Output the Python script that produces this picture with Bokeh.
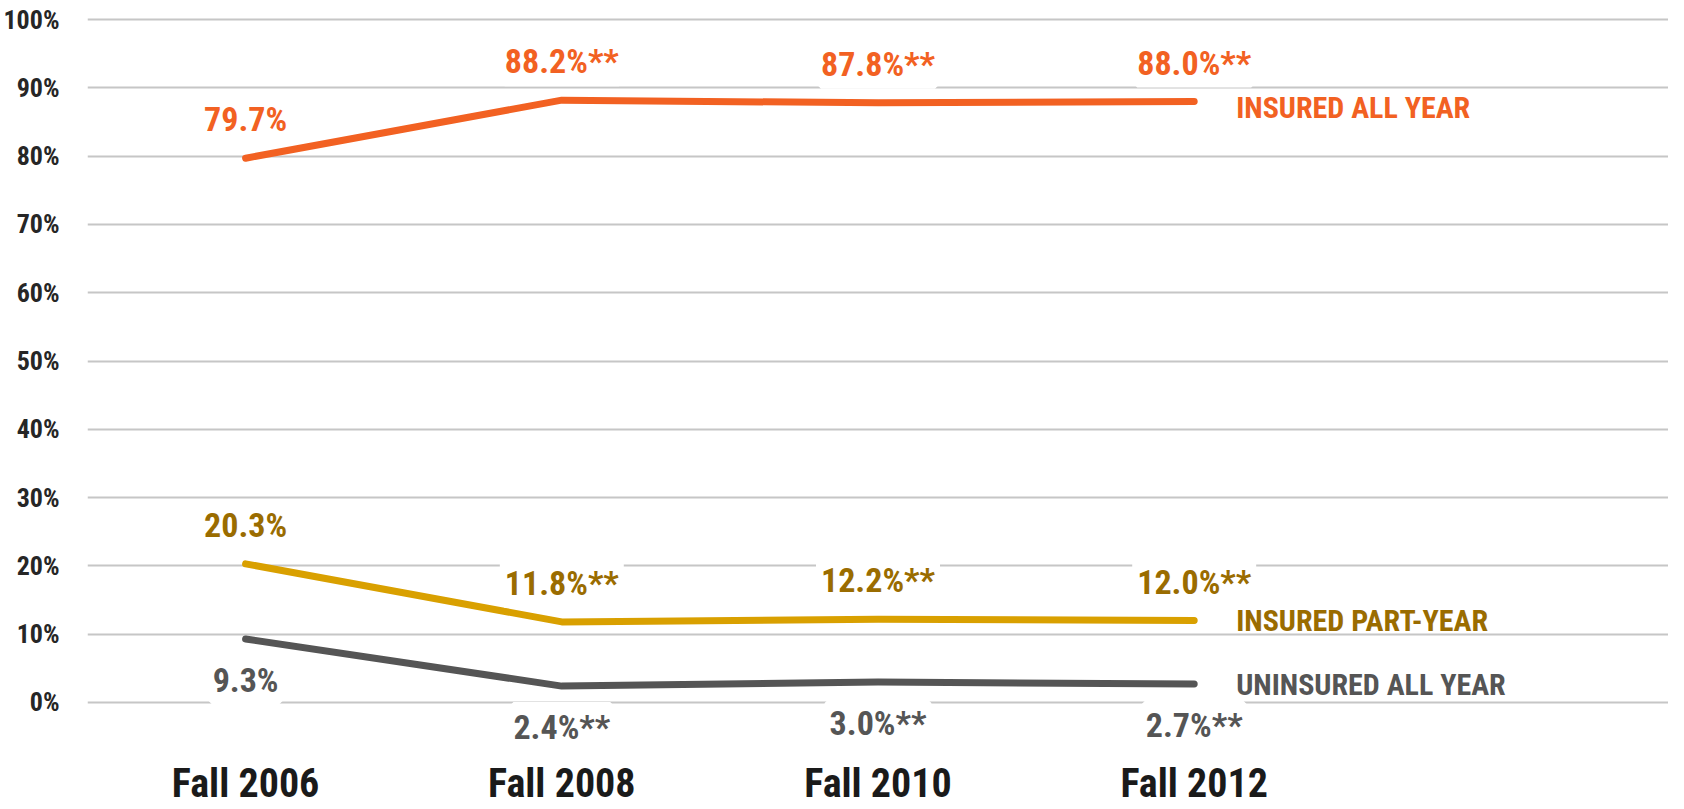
from bokeh.plotting import figure
from bokeh.models import (ColumnDataSource, Range1d, FixedTicker, PrintfTickFormatter,
                          LabelSet)
from bokeh.core.properties import value
from bokeh.embed import file_html
from bokeh.resources import INLINE

# ---- data ----
categories = ["Fall 2006", "Fall 2008", "Fall 2010", "Fall 2012"]
insured_all_year = [79.7, 88.2, 87.8, 88.0]
insured_part_year = [20.3, 11.8, 12.2, 12.0]
uninsured_all_year = [9.3, 2.4, 3.0, 2.7]
significance = ["", "**", "**", "**"]
series_names = ["INSURED ALL YEAR", "INSURED PART-YEAR", "UNINSURED ALL YEAR"]
y_ticks = [0, 10, 20, 30, 40, 50, 60, 70, 80, 90, 100]

# ---- style ----
FONT = "Roboto Condensed"
styles = [
    dict(line="#F26122", text="#F26122", label_dy=39, name_dy=-6),
    dict(line="#D9A000", text="#9A6C00", label_dy=39, name_dy=0),
    dict(line="#555555", text="#555555", label_dy=-41, name_dy=0),
]
series = [insured_all_year, insured_part_year, uninsured_all_year]

x_pos = list(range(len(categories)))

p = figure(width=1668, height=809, output_backend="svg", toolbar_location=None,
           x_range=Range1d(-0.5, 4.5), y_range=Range1d(-5.42, 100.3),
           min_border_left=81, min_border_right=0, min_border_top=17,
           min_border_bottom=70)
p.outline_line_color = None
p.background_fill_color = "white"
p.border_fill_color = "white"

# axes
p.yaxis.ticker = FixedTicker(ticks=y_ticks)
p.yaxis.formatter = PrintfTickFormatter(format="%d%%")
p.yaxis.axis_line_color = None
p.yaxis.major_tick_line_color = None
p.yaxis.minor_tick_line_color = None
p.yaxis.major_label_standoff = 22
p.yaxis.major_label_text_font = FONT
p.yaxis.major_label_text_font_style = "bold"
p.yaxis.major_label_text_font_size = "26px"
p.yaxis.major_label_text_color = "#262626"

p.xaxis.ticker = FixedTicker(ticks=x_pos)
p.xaxis.major_label_overrides = {i: c for i, c in zip(x_pos, categories)}
p.xaxis.axis_line_color = None
p.xaxis.major_tick_line_color = None
p.xaxis.minor_tick_line_color = None
p.xaxis.major_label_standoff = 14
p.xaxis.major_label_text_font = FONT
p.xaxis.major_label_text_font_style = "bold"
p.xaxis.major_label_text_font_size = "40px"
p.xaxis.major_label_text_color = "#1A1A1A"

p.xgrid.grid_line_color = None
p.ygrid.ticker = FixedTicker(ticks=y_ticks)
p.ygrid.grid_line_color = "#C6C6C6"
p.ygrid.grid_line_width = 2

for vals, st, name in zip(series, styles, series_names):
    src = ColumnDataSource(dict(
        x=x_pos, y=vals,
        lbl=[f"{v:.1f}%{s}" for v, s in zip(vals, significance)],
    ))
    p.line("x", "y", source=src, line_color=st["line"], line_width=7,
           line_cap="round", line_join="round")
    labels = LabelSet(x="x", y="y", text="lbl", source=src,
                      y_offset=st["label_dy"], text_align="center",
                      text_baseline="middle", text_font=value(FONT),
                      text_font_style="bold", text_font_size="34px",
                      text_color=st["text"], background_fill_color="white",
                      border_line_color="white", border_line_width=10)
    p.add_layout(labels)
    name_src = ColumnDataSource(dict(x=[x_pos[-1]], y=[vals[-1]], t=[name]))
    p.text("x", "y", text="t", source=name_src, x_offset=42,
           y_offset=-st["name_dy"], text_align="left", text_baseline="middle",
           text_font=value(FONT), text_font_style="bold",
           text_font_size="30px", text_color=st["text"])

open("out.html", "w").write(file_html(p, INLINE))
